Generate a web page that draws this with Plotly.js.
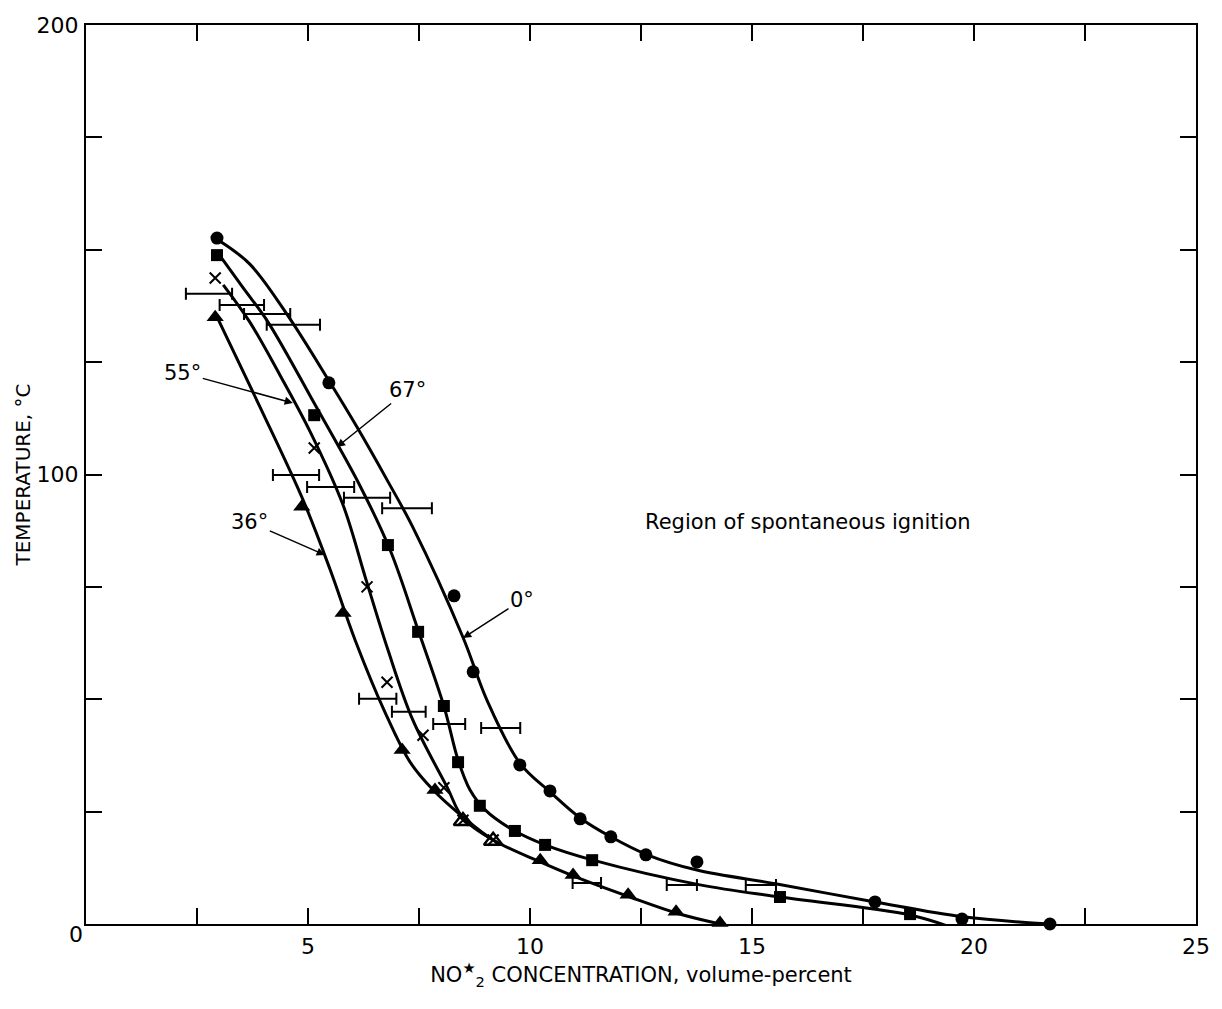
<!DOCTYPE html>
<html>
<head>
<meta charset="utf-8">
<script src="https://cdn.plot.ly/plotly-3.0.1.min.js"></script>
<style>html,body{margin:0;padding:0;background:#fff;}</style>
</head>
<body>
<div id="chart" style="width:1222px;height:1009px;"></div>
<script>
// ---- Measured points (NO2* concentration %, temperature °C) ----
const circ0X = [2.95, 5.47, 8.29, 8.72, 9.77, 10.45, 11.13, 11.82, 12.61, 13.76, 17.77, 19.73, 21.71];
const circ0Y = [152.6, 120.4, 73.0, 56.1, 35.4, 29.6, 23.4, 19.4, 15.4, 13.8, 4.9, 1.1, 0];

const sq67X = [2.95, 5.14, 6.80, 7.48, 8.06, 8.38, 8.87, 9.66, 10.34, 11.40, 15.63, 18.56, 19.53];
const sq67Y = [148.8, 113.2, 84.3, 65.0, 48.5, 36.0, 26.3, 20.7, 17.6, 14.2, 6.0, 2.2, -1.0];

const x55X = [2.91, 5.14, 6.33, 6.78, 7.59, 8.06, 8.49, 9.17];
const x55Y = [143.7, 105.9, 75.0, 53.8, 42.0, 30.3, 23.1, 18.7];

const tri36X = [2.91, 4.86, 5.79, 7.12, 7.86, 10.23, 10.97, 12.21, 13.29, 14.28];
const tri36Y = [135.0, 92.8, 69.2, 38.7, 29.8, 14.2, 10.9, 6.5, 2.7, 0.2];
const tri36OpenX = [8.49, 9.17];
const tri36OpenY = [22.9, 18.5];

// ---- Drawn curves ----
const curve0X = [3.02, 3.69, 4.55, 5.50, 6.10, 6.78, 7.36, 8.49, 9.03, 9.77, 10.45, 11.13, 11.82, 12.64, 13.76, 15.56, 17.77, 19.75, 21.71];
const curve0Y = [151.9, 146.8, 135.3, 120.4, 110.6, 98.8, 88.3, 63.8, 49.8, 35.8, 29.4, 23.6, 19.4, 15.4, 12.0, 8.9, 4.9, 1.6, 0];

const curve67X = [2.97, 3.54, 4.10, 5.16, 6.17, 6.85, 7.48, 8.06, 8.38, 8.65, 8.99, 9.62, 10.34, 11.42, 13.83, 15.63, 18.56, 19.53];
const curve67Y = [149.3, 141.5, 133.9, 115.5, 97.5, 83.2, 65.4, 48.5, 36.5, 29.8, 25.4, 20.9, 17.6, 14.2, 8.7, 6.0, 2.0, -0.9];

const curve55X = [3.09, 3.69, 4.37, 5.05, 5.79, 6.31, 6.80, 7.36, 8.13, 8.49, 9.17];
const curve55Y = [142.2, 133.9, 122.1, 109.5, 93.2, 76.5, 61.0, 45.4, 30.5, 23.6, 18.7];

const curve36X = [2.91, 3.92, 4.89, 5.50, 6.06, 6.73, 7.30, 7.82, 8.49, 9.17, 10.23, 10.97, 12.25, 13.31, 14.28];
const curve36Y = [135.9, 115.0, 94.3, 78.8, 63.2, 47.2, 36.0, 29.8, 23.8, 18.7, 13.8, 10.7, 6.0, 2.4, 0];

// ---- Horizontal error bars (centre x, y, half-width) ----
const errX = [2.77, 3.51, 4.08, 4.67, 4.73, 5.51, 6.33, 7.23, 6.57, 7.27, 8.18, 9.34, 11.28, 13.42, 15.20];
const errY = [140.2, 137.7, 135.7, 133.3, 99.9, 97.2, 94.8, 92.5, 50.1, 47.2, 44.5, 43.6, 9.1, 8.7, 8.7];
const errHalf = [0.52, 0.50, 0.52, 0.60, 0.52, 0.53, 0.52, 0.56, 0.42, 0.38, 0.36, 0.44, 0.32, 0.34, 0.34];

// ---- Axis ticks ----
const xTickVals = [0, 2.5, 5, 7.5, 10, 12.5, 15, 17.5, 20, 22.5, 25];
const xTickText = ['', '', '5', '', '10', '', '15', '', '20', '', '25'];
const yTickVals = [0, 25, 50, 75, 100, 125, 150, 175, 200];
const yTickText = ['', '', '', '', '100', '', '', '', '200'];

// ---- Curve labels: [text, arrow head x, y, text x, y] ----
const labelText = ['55°', '67°', '36°', '0°'];
const labelHeadX = [4.66, 5.65, 5.38, 8.49];
const labelHeadY = [115.9, 106.1, 82.1, 63.6];
const labelTextX = [2.18, 7.25, 3.69, 9.82];
const labelTextY = [122.6, 118.8, 89.4, 72.1];

const FONT = 'DejaVu Sans, Liberation Sans, sans-serif';
const LINE = {color: '#000', width: 3, shape: 'spline', smoothing: 1};

function curve(x, y) {
  return {x: x, y: y, type: 'scatter', mode: 'lines', line: LINE, hoverinfo: 'skip', showlegend: false, cliponaxis: false};
}
function pts(x, y, symbol, size, lw) {
  return {x: x, y: y, type: 'scatter', mode: 'markers', cliponaxis: false, showlegend: false,
    marker: {symbol: symbol, size: size, color: '#000', line: {color: '#000', width: lw || 0}}};
}

const traces = [
  curve(curve0X, curve0Y),
  curve(curve67X, curve67Y),
  curve(curve55X, curve55Y),
  curve(curve36X, curve36Y),
  {x: errX, y: errY, type: 'scatter', mode: 'markers', showlegend: false,
   marker: {size: 1, color: 'rgba(0,0,0,0)'},
   error_x: {type: 'data', array: errHalf, symmetric: true, color: '#000', thickness: 2, width: 6}},
  pts(circ0X, circ0Y, 'circle', 13),
  pts(sq67X, sq67Y, 'square', 12),
  pts(tri36X, tri36Y, 'triangle-up', 15),
  {x: tri36OpenX, y: tri36OpenY, type: 'scatter', mode: 'markers', cliponaxis: false, showlegend: false,
   marker: {symbol: 'triangle-up-open', size: 16, color: '#000', line: {color: '#000', width: 2.5}}},
  pts(x55X, x55Y, 'x-thin', 11, 2)
];

const annotations = labelText.map((t, i) => ({
  text: t, x: labelHeadX[i], y: labelHeadY[i], ax: labelTextX[i], ay: labelTextY[i],
  xref: 'x', yref: 'y', axref: 'x', ayref: 'y',
  showarrow: true, arrowhead: 2, arrowsize: 1.1, arrowwidth: 1.5, arrowcolor: '#000', standoff: 0,
  font: {family: FONT, size: 21, color: '#000'}
}));
annotations.push({text: 'Region of spontaneous ignition', x: 16.26, y: 89.4, xref: 'x', yref: 'y',
  showarrow: false, font: {family: FONT, size: 21, color: '#000'}});
annotations.push({text: '0', x: -0.009, y: -0.012, xref: 'paper', yref: 'paper', xanchor: 'center', yanchor: 'middle',
  showarrow: false, font: {family: FONT, size: 22, color: '#000'}});

const layout = {
  width: 1222, height: 1009,
  margin: {l: 86, r: 26, t: 25, b: 85},
  paper_bgcolor: '#fff', plot_bgcolor: '#fff',
  font: {family: FONT, color: '#000'},
  showlegend: false,
  xaxis: {
    range: [0, 25], showgrid: false, zeroline: false,
    showline: true, linecolor: '#000', linewidth: 2, mirror: 'ticks',
    ticks: 'inside', ticklen: 16, tickwidth: 2, tickcolor: '#000',
    tickmode: 'array', tickvals: xTickVals, ticktext: xTickText,
    tickfont: {family: FONT, size: 22, color: '#000'}, ticklabelstandoff: 2,
    title: {text: 'NO<sup>★</sup><sub>2</sub> CONCENTRATION, volume-percent', font: {family: FONT, size: 21, color: '#000'}, standoff: 2}
  },
  yaxis: {
    range: [0, 200], showgrid: false, zeroline: false,
    showline: true, linecolor: '#000', linewidth: 2, mirror: 'ticks',
    ticks: 'inside', ticklen: 16, tickwidth: 2, tickcolor: '#000',
    tickmode: 'array', tickvals: yTickVals, ticktext: yTickText,
    tickfont: {family: FONT, size: 22, color: '#000'}, ticklabelstandoff: 1,
    title: {text: 'TEMPERATURE, °C', font: {family: FONT, size: 20, color: '#000'}, standoff: 1}
  },
  annotations: annotations
};

Plotly.newPlot('chart', traces, layout, {displayModeBar: false, staticPlot: true});
</script>
</body>
</html>
